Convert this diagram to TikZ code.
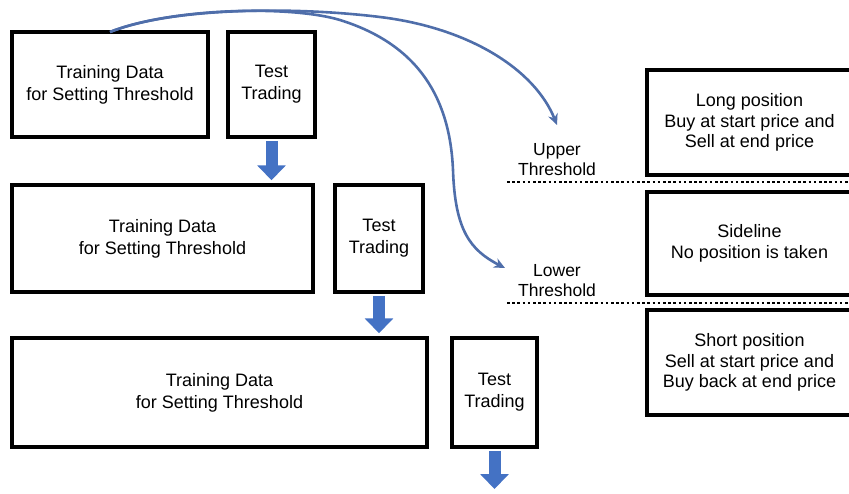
\documentclass[tikz,border=0pt]{standalone}
\usepackage{fontspec}
\setmainfont{Liberation Sans}
\usetikzlibrary{arrows.meta}
\definecolor{blockblue}{RGB}{68,114,196}
\definecolor{curveblue}{RGB}{79,110,170}
\begin{document}
\begin{tikzpicture}[x=1pt,y=-1pt,
 box/.style={draw=black, line width=3.5pt, inner sep=0pt, align=center, fill=white, font=\fontsize{18}{22}\selectfont},
 posbox/.style={box, font=\fontsize{18}{20.5}\selectfont},
 thr/.style={align=center, inner sep=0pt, font=\fontsize{17.5}{20}\selectfont},
 blockarrow/.style={draw=blockblue, line width=12pt, -{Triangle[width=28pt,length=15pt]}},
 curvearrow/.style={draw=curveblue, line width=2.6pt, -{Stealth[length=11pt,width=10pt]}},
 dotline/.style={line width=2.5pt, dash pattern=on 2.5pt off 2.7pt}]
\useasboundingbox (0,0) rectangle (849,493);
% dotted threshold lines
\coordinate (ul0) at (507,182); \coordinate (ul1) at (849,182);
\coordinate (ll0) at (507,303); \coordinate (ll1) at (849,303);
\draw[dotline] (ul0) -- (ul1);
\draw[dotline] (ll0) -- (ll1);
% left boxes
\node[box, minimum width=196pt, minimum height=105pt] (tr1) at (110,84.5) {Training Data\\for Setting Threshold};
\node[box, minimum width=87pt, minimum height=105pt] (te1) at (271.5,84.5) {Test\\Trading};
\node[box, minimum width=301pt, minimum height=107pt] (tr2) at (162.5,238.5) {Training Data\\for Setting Threshold};
\node[box, minimum width=88pt, minimum height=107pt] (te2) at (379,238.5) {Test\\Trading};
\node[box, minimum width=415pt, minimum height=109pt] (tr3) at (219.5,392.5) {Training Data\\for Setting Threshold};
\node[box, minimum width=85pt, minimum height=109pt] (te3) at (494.5,392.5) {Test\\Trading};
% right boxes
\node[posbox, minimum width=205pt, minimum height=105pt] (long) at (749.5,122.5) {Long position\\Buy at start price and\\Sell at end price};
\node[posbox, minimum width=205pt, minimum height=103pt] (side) at (749.5,243.5) {Sideline\\No position is taken};
\node[posbox, minimum width=205pt, minimum height=105pt] (short) at (749.5,362.5) {Short position\\Sell at start price and\\Buy back at end price};
% threshold labels
\node[thr] (upper) at (557,160) {Upper\\Threshold};
\node[thr] (lower) at (557,281) {Lower\\Threshold};
% block arrows
\coordinate (a3end) at (494.5,489);
\draw[blockarrow] ([yshift=-2pt]te1.south) -- ([yshift=3pt]te1.south |- tr2.north);
\draw[blockarrow] ([yshift=-2pt]te2.south) -- ([yshift=3pt]te2.south |- tr3.north);
\draw[blockarrow] ([yshift=-2pt]te3.south) -- (a3end);
% curved arrows
\coordinate (start) at (110,32);
\coordinate (ut) at (557,125);
\coordinate (lt) at (505,268);
\draw[curvearrow] (start) .. controls (170,8) and (290,6) .. (380,17) .. controls (470,28) and (535,70) .. (ut);
\draw[curvearrow] (start) .. controls (170,8) and (290,5) .. (340,20) .. controls (420,45) and (450,100) .. (453,170) .. controls (455,230) and (470,250) .. (lt);
\end{tikzpicture}
\end{document}
